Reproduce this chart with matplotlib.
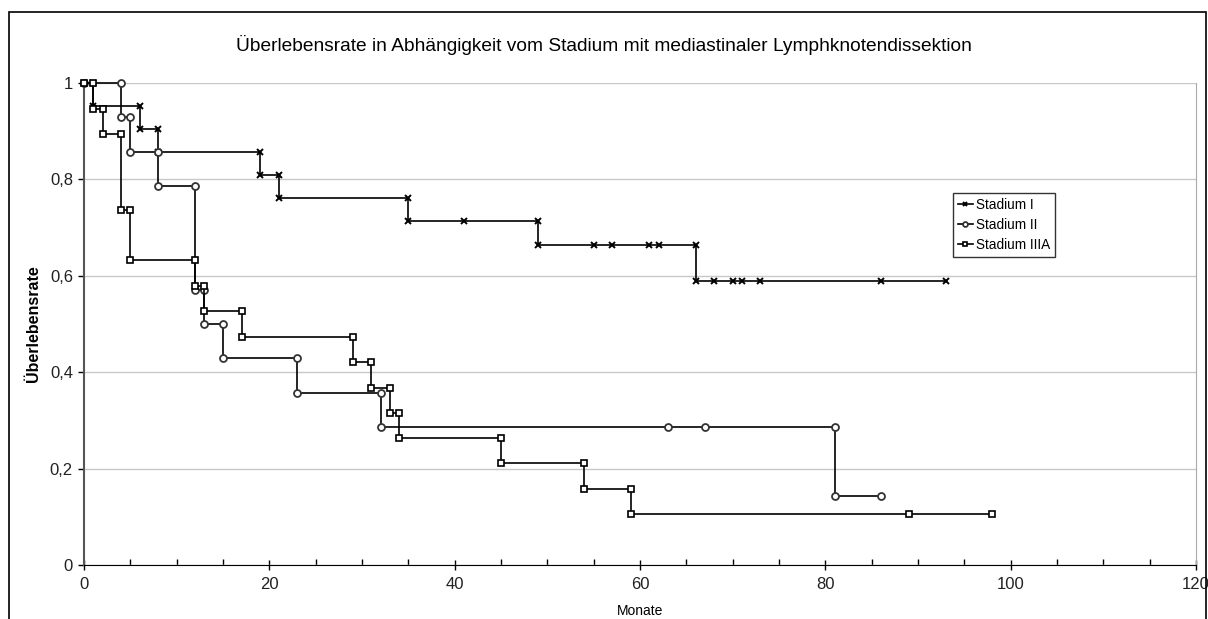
import matplotlib
matplotlib.use("Agg")
import matplotlib.pyplot as plt
from matplotlib.patches import Rectangle
from matplotlib.ticker import MultipleLocator, FuncFormatter

plt.rcParams["font.family"] = ["Liberation Sans", "DejaVu Sans"]

# Kaplan-Meier Stufenpunkte (Monate, Ueberlebensrate), wie in der Excel-Tabelle
stadium1_x = [0, 1, 1, 6, 6, 8, 8, 19, 19, 21, 21, 35, 35, 41, 49, 49, 55, 57, 61, 62,
              66, 66, 68, 70, 71, 73, 86, 93]
stadium1_y = [1, 1, 0.952, 0.952, 0.905, 0.905, 0.857, 0.857, 0.810, 0.810, 0.762, 0.762,
              0.714, 0.714, 0.714, 0.663, 0.663, 0.663, 0.663, 0.663, 0.663, 0.589,
              0.589, 0.589, 0.589, 0.589, 0.589, 0.589]

stadium2_x = [0, 4, 4, 5, 5, 8, 8, 12, 12, 13, 13, 15, 15, 23, 23, 32, 32, 63, 67, 81, 81, 86]
stadium2_y = [1, 1, 0.929, 0.929, 0.857, 0.857, 0.786, 0.786, 0.571, 0.571, 0.5, 0.5,
              0.429, 0.429, 0.357, 0.357, 0.286, 0.286, 0.286, 0.286, 0.143, 0.143]

stadium3_x = [0, 1, 1, 2, 2, 4, 4, 5, 5, 12, 12, 13, 13, 17, 17, 29, 29, 31, 31, 33, 33,
              34, 34, 45, 45, 54, 54, 59, 59, 89, 98]
stadium3_y = [1, 1, 0.947, 0.947, 0.895, 0.895, 0.737, 0.737, 0.632, 0.632, 0.579, 0.579,
              0.526, 0.526, 0.474, 0.474, 0.421, 0.421, 0.368, 0.368, 0.316, 0.316,
              0.263, 0.263, 0.211, 0.211, 0.158, 0.158, 0.105, 0.105, 0.105]

labels = ["Stadium I", "Stadium II", "Stadium IIIA"]

fig = plt.figure(figsize=(12.08, 6.19), dpi=100)
ax = fig.add_axes([84 / 1208, 1 - 565 / 619, (1196 - 84) / 1208, (565 - 83) / 619])

ax.plot(stadium1_x, stadium1_y, color="black", lw=1.2, marker="x", ms=4.5, mew=1.4,
        label=labels[0], clip_on=False, zorder=3)
ax.plot(stadium2_x, stadium2_y, color="black", lw=1.2, marker="o", ms=5, mew=1.3,
        mfc="white", mec="#333333", label=labels[1], clip_on=False, zorder=3)
ax.plot(stadium3_x, stadium3_y, color="black", lw=1.2, marker="s", ms=4.5, mew=1.2,
        mfc="white", label=labels[2], clip_on=False, zorder=3)

ax.set_xlim(0, 120)
ax.set_ylim(0, 1)
ax.xaxis.set_major_locator(MultipleLocator(20))
ax.xaxis.set_minor_locator(MultipleLocator(5))
ax.yaxis.set_major_locator(MultipleLocator(0.2))
ax.yaxis.set_major_formatter(FuncFormatter(lambda v, p: f"{v:g}".replace(".", ",")))
ax.grid(axis="y", color="#c8c8c8", lw=1)
ax.set_axisbelow(True)

ax.tick_params(axis="x", which="major", direction="inout", length=7, width=1, labelsize=12,
               pad=5, colors="black")
ax.tick_params(axis="x", which="minor", direction="in", length=4, width=1)
ax.tick_params(axis="y", direction="out", length=4, width=1, labelsize=12, pad=4)
for lab in ax.get_xticklabels() + ax.get_yticklabels():
    lab.set_color("#222222")

ax.spines["bottom"].set_color("black")
ax.spines["left"].set_color("#555555")
ax.spines["left"].set_linewidth(1.5)
ax.spines["right"].set_color("#aaaaaa")
ax.spines["top"].set_visible(False)

ax.set_xlabel("Monate", fontsize=10, labelpad=9)
ax.set_ylabel("Überlebensrate", fontsize=11.5, fontweight="bold", labelpad=6)
fig.suptitle("Überlebensrate in Abhängigkeit vom Stadium mit mediastinaler Lymphknotendissektion",
             y=1 - 45 / 619, va="center", fontsize=13.8)

leg = ax.legend(loc="upper left", bbox_to_anchor=((953 - 84) / 1112, (565 - 193) / 482),
                fontsize=9.8, frameon=True, fancybox=False, borderpad=0.35,
                handlelength=1.1, handletextpad=0.25, labelspacing=0.45, borderaxespad=0,
                markerscale=0.7)
leg.get_frame().set_edgecolor("black")
leg.get_frame().set_linewidth(1)

fig.patches.append(Rectangle((9 / 1208, -0.1), 1197 / 1208, 1.1 - 12 / 619,
                             transform=fig.transFigure, fill=False, ec="black", lw=1.2))

fig.savefig("out.png", dpi=100)
